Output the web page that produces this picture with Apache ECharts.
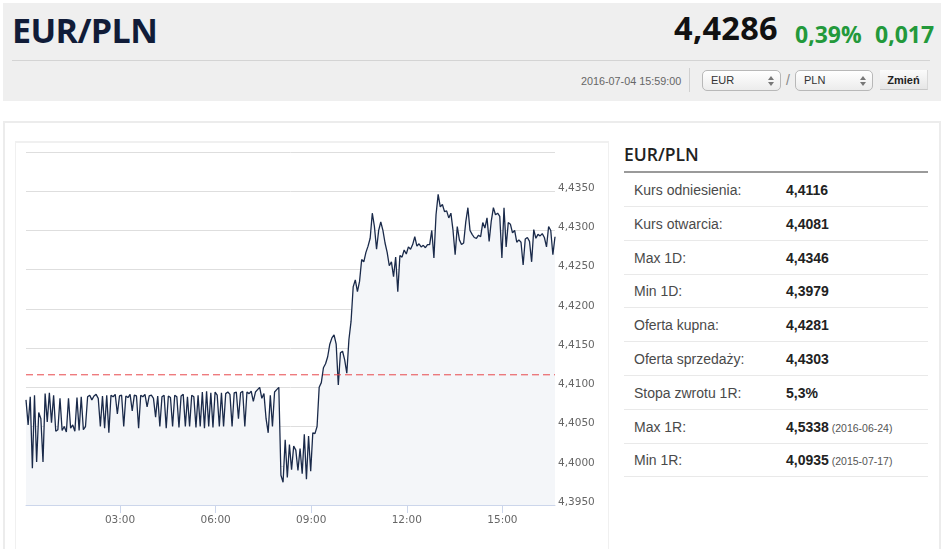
<!DOCTYPE html>
<html>
<head>
<meta charset="utf-8">
<script src="https://cdn.jsdelivr.net/npm/echarts@6/dist/echarts.min.js"></script>
<style>
  html, body { margin:0; padding:0; background:#fff; width:945px; height:549px; overflow:hidden; }
  .abs { position:absolute; white-space:nowrap; }
  #top { position:absolute; left:3px; top:3px; width:938px; height:98px; background:#efefef; }
  .os { font-family:"Open Sans", Arial, sans-serif; }
  .ar { font-family:Arial, "Liberation Sans", sans-serif; }
  .sel { position:absolute; top:70px; height:19px; border:1px solid #b8b8b8; border-radius:5px;
         background:linear-gradient(#ffffff,#ececec); box-sizing:content-box; }
  .sel span { position:absolute; left:8px; top:0; font:11px Arial, "Liberation Sans", sans-serif; line-height:19px; color:#333; }
  .arr { position:absolute; right:6px; width:0; height:0; border-left:3px solid transparent; border-right:3px solid transparent; }
  .up { top:5px; border-bottom:4px solid #777; }
  .dn { top:11px; border-top:4px solid #777; }
  .row { position:absolute; left:624px; width:304px; height:34px; border-bottom:1px solid #e9e9e9; box-sizing:border-box; }
  .row .l { position:absolute; left:10px; top:1px; font:14px Arial, "Liberation Sans", sans-serif; line-height:32px; color:#4a4a4a; }
  .row .v { position:absolute; left:162px; top:1px; font:bold 14px Arial, "Liberation Sans", sans-serif; line-height:32px; color:#222; }
  .row .v small { font-weight:normal; font-size:10.5px; color:#555; }
</style>
</head>
<body>
<div id="top"></div>
<div class="abs os" style="left:12px;top:13px;font-size:34px;line-height:34px;font-weight:700;color:#111c38;letter-spacing:-0.6px;">EUR/PLN</div>
<div class="abs os" style="right:167px;top:11.5px;font-size:32.5px;line-height:32.5px;font-weight:700;color:#111;letter-spacing:0.3px;">4,4286</div>
<div class="abs os" style="left:795px;top:22.5px;font-size:23px;line-height:23px;font-weight:700;color:#23993b;">0,39%</div>
<div class="abs os" style="left:875px;top:22.5px;font-size:23px;line-height:23px;font-weight:700;color:#23993b;">0,017</div>
<div class="abs" style="left:12px;top:60px;width:918px;height:1px;background:#d4d4d4;"></div>
<div class="abs ar" style="left:581px;top:75.5px;font-size:10.8px;line-height:11px;color:#666;">2016-07-04 15:59:00</div>
<div class="abs" style="left:689px;top:68px;width:1px;height:24px;background:#d0d0d0;"></div>
<div class="sel" style="left:702px;width:77px;"><span>EUR</span><i class="arr up"></i><i class="arr dn"></i></div>
<div class="abs ar" style="left:786px;top:71px;font-size:14px;line-height:18px;color:#888;">/</div>
<div class="sel" style="left:795px;width:76px;"><span>PLN</span><i class="arr up"></i><i class="arr dn"></i></div>
<div class="abs ar" style="left:880px;top:70px;width:48px;height:20px;background:linear-gradient(#fbfbfb,#e6e6e6);border-bottom:1px solid #c8c8c8;border-right:1px solid #d8d8d8;box-sizing:border-box;font-size:11px;font-weight:bold;line-height:20px;text-align:center;color:#222;">Zmień</div>

<div class="abs" style="left:3px;top:121px;width:934px;height:440px;border:2px solid #ececec;"></div>
<div class="abs" style="left:15px;top:141px;width:590px;height:420px;border:2px solid #f0f0f0;"></div>
<div id="chart" class="abs" style="left:16px;top:143px;width:592px;height:406px;"></div>

<div class="abs os" style="left:624px;top:146px;font-size:17.5px;line-height:17.5px;font-weight:600;color:#222;">EUR/PLN</div>
<div class="abs" style="left:624px;top:171px;width:304px;height:2px;background:#9a9a9a;"></div>
<div id="table"></div>

<script>
// ---- data ----
const startMinute = 3;       // first sample, minutes after midnight
const stepMinutes = 4;       // spacing between samples
const xMaxMinute = 999;
const timeTicks = [180, 360, 540, 720, 900];
const referenceRate = 4.4116;
const yMin = 4.395, yMax = 4.440, yStep = 0.005;

const prices = [
4.4084,4.4052,4.4088,4.3997,4.4090,4.4005,4.4068,4.4060,4.4005,4.4092,
4.4056,4.4093,4.4055,4.4090,4.4044,4.4046,4.4086,4.4045,4.4050,4.4043,
4.4086,4.4048,4.4052,4.4044,4.4087,4.4045,4.4088,4.4046,4.4050,4.4088,
4.4090,4.4084,4.4089,4.4091,4.4086,4.4050,4.4089,4.4048,4.4090,4.4042,
4.4090,4.4088,4.4091,4.4066,4.4089,4.4090,4.4050,4.4089,4.4087,4.4091,
4.4070,4.4090,4.4089,4.4048,4.4090,4.4088,4.4091,4.4075,4.4089,4.4090,
4.4086,4.4062,4.4089,4.4050,4.4088,4.4090,4.4048,4.4089,4.4087,4.4050,
4.4090,4.4088,4.4049,4.4089,4.4091,4.4050,4.4088,4.4050,4.4090,4.4088,
4.4049,4.4090,4.4050,4.4094,4.4048,4.4095,4.4050,4.4093,4.4049,4.4094,
4.4090,4.4050,4.4093,4.4050,4.4092,4.4094,4.4091,4.4050,4.4093,4.4094,
4.4060,4.4093,4.4095,4.4050,4.4094,4.4092,4.4095,4.4082,4.4094,4.4097,
4.4100,4.4086,4.4092,4.4060,4.4042,4.4090,4.4050,4.4094,4.4097,4.4100,
4.3988,4.3979,4.4033,4.3985,4.4027,4.3995,4.4025,4.4020,4.3994,4.4022,
4.3990,4.4040,4.3983,4.4038,4.3993,4.4042,4.4041,4.4050,4.4100,4.4106,
4.4125,4.4130,4.4139,4.4155,4.4163,4.4167,4.4155,4.4103,4.4144,4.4146,
4.4135,4.4118,4.4161,4.4184,4.4228,4.4237,4.4222,4.4235,4.4263,4.4260,
4.4272,4.4280,4.4290,4.4322,4.4305,4.4276,4.4300,4.4311,4.4300,4.4284,
4.4272,4.4255,4.4260,4.4241,4.4266,4.4222,4.4268,4.4266,4.4275,4.4270,
4.4279,4.4276,4.4282,4.4292,4.4280,4.4283,4.4279,4.4281,4.4278,4.4282,
4.4282,4.4300,4.4265,4.4320,4.4346,4.4330,4.4333,4.4324,4.4325,4.4316,
4.4322,4.4300,4.4269,4.4305,4.4288,4.4282,4.4284,4.4311,4.4329,4.4300,
4.4295,4.4291,4.4290,4.4294,4.4292,4.4310,4.4303,4.4316,4.4286,4.4312,
4.4329,4.4320,4.4322,4.4318,4.4265,4.4329,4.4279,4.4310,4.4308,4.4297,
4.4300,4.4285,4.4288,4.4285,4.4256,4.4289,4.4291,4.4286,4.4260,4.4301,
4.4290,4.4295,4.4293,4.4296,4.4291,4.4279,4.4305,4.4300,4.4269,4.4292
];

const tableLabels = ["Kurs odniesienia:", "Kurs otwarcia:", "Max 1D:", "Min 1D:", "Oferta kupna:",
                     "Oferta sprzedaży:", "Stopa zwrotu 1R:", "Max 1R:", "Min 1R:"];
const tableValues = ["4,4116", "4,4081", "4,4346", "4,3979", "4,4281", "4,4303", "5,3%", "4,5338", "4,0935"];
const tableDates  = ["", "", "", "", "", "", "", "2016-06-24", "2015-07-17"];

// ---- table ----
const tbl = document.getElementById('table');
tableLabels.forEach((lab, i) => {
  const r = document.createElement('div');
  r.className = 'row';
  r.style.top = (173 + i * 33.8) + 'px';
  const l = document.createElement('div'); l.className = 'l'; l.textContent = lab;
  const v = document.createElement('div'); v.className = 'v'; v.textContent = tableValues[i];
  if (tableDates[i]) { const s = document.createElement('small'); s.textContent = ' (' + tableDates[i] + ')'; v.appendChild(s); }
  r.appendChild(l); r.appendChild(v); tbl.appendChild(r);
});

// ---- chart ----
const seriesData = prices.map((p, i) => [startMinute + i * stepMinutes, p]);
const refLineData = [[startMinute, referenceRate], [xMaxMinute, referenceRate]];
const fmtTime = v => { const h = Math.floor(v / 60), m = Math.round(v % 60); return String(h).padStart(2, '0') + ':' + String(m).padStart(2, '0'); };

const chart = echarts.init(document.getElementById('chart'), null, { renderer: 'canvas' });
chart.setOption({
  animation: false,
  backgroundColor: '#fff',
  grid: { left: 10, right: 53, top: 9, bottom: 44, containLabel: false },
  xAxis: {
    type: 'value', min: startMinute, max: xMaxMinute,
    axisLine: { show: true, lineStyle: { color: '#ccd6eb', width: 1 } },
    axisTick: { show: true, length: 8, lineStyle: { color: '#ccd6eb' }, customValues: timeTicks },
    axisLabel: { customValues: timeTicks, formatter: fmtTime, color: '#666', fontSize: 10.5,
                 fontFamily: 'DejaVu Sans, sans-serif', margin: 10 },
    splitLine: { show: false }
  },
  yAxis: {
    type: 'value', position: 'right', min: yMin, max: yMax, interval: yStep,
    axisLine: { show: false }, axisTick: { show: false },
    axisLabel: { color: '#666', fontSize: 10.5, fontFamily: 'DejaVu Sans, sans-serif', margin: 3,
                 verticalAlign: 'middle',
                 formatter: v => (Math.abs(v - yMax) < 1e-6 ? '' : '{a|' + v.toFixed(4).replace('.', ',') + '}'),
                 rich: { a: { color: '#666', fontSize: 10.5, fontFamily: 'DejaVu Sans, sans-serif', padding: [0, 0, 6, 0] } } },
    splitLine: { show: true, lineStyle: { color: '#dedede', width: 1 } }
  },
  series: [{
    type: 'line', data: seriesData, showSymbol: false, symbol: 'none', z: 3,
    lineStyle: { color: '#1a2a4a', width: 1.3 },
    areaStyle: { color: '#f4f6f9', opacity: 1, origin: 'start' }
  }, {
    type: 'line', data: refLineData, showSymbol: false, symbol: 'none', silent: true, z: 4,
    lineStyle: { color: '#e8474c', type: [7, 4], width: 1 }
  }]
});
</script>
</body>
</html>
